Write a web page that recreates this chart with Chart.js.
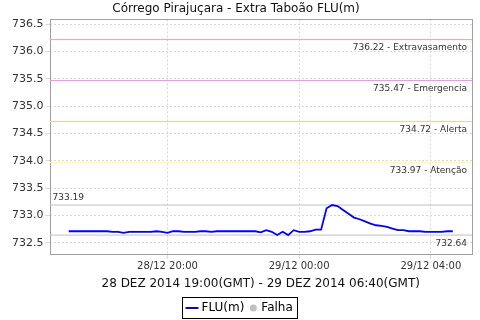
<!DOCTYPE html>
<html><head><meta charset="utf-8">
<script src="https://cdn.jsdelivr.net/npm/chart.js@4/dist/chart.umd.min.js"></script>
<style>html,body{margin:0;padding:0;background:#fff}</style>
</head><body>
<canvas id="c" width="480" height="320"></canvas>
<script>
// ---- data ----
const startMinute = 1020;   // 28/12 17:00 (local axis time)
const stepMinutes = 10;
const fluValues = [
 732.71,732.71,732.71,732.71,732.71,732.71,732.71,732.71,732.70,732.70,
 732.68,732.70,732.70,732.70,732.70,732.70,732.71,732.70,732.68,732.71,
 732.71,732.70,732.70,732.70,732.71,732.71,732.70,732.71,732.71,732.71,
 732.71,732.71,732.71,732.71,732.71,732.69,732.73,732.70,732.64,732.70,
 732.64,732.73,732.70,732.70,732.71,732.74,732.74,733.13,733.19,733.17,
 733.10,733.03,732.96,732.93,732.89,732.85,732.82,732.81,732.79,732.76,
 732.73,732.73,732.71,732.71,732.71,732.70,732.70,732.70,732.70,732.71,
 732.71
];
const xTickMinutes = [1200, 1440, 1680];
const xTickLabels = ['28/12 20:00', '29/12 00:00', '29/12 04:00'];
const yTickValues = [732.5, 733.0, 733.5, 734.0, 734.5, 735.0, 735.5, 736.0, 736.5];
const thresholdValues = [736.22, 735.47, 734.72, 733.97];
const thresholdNames = ['Extravasamento', 'Emergencia', 'Alerta', 'Atenção'];
const thresholdColors = ['#f2a0a0', '#ff88ff', '#ffc89a', '#ffff88'];
const maxValue = 733.19;
const minValue = 732.64;
const xMin = 985, xMax = 1755;
const yMin = 732.275, yMax = 736.59;
const titleText = 'Córrego Pirajuçara - Extra Taboão FLU(m)';
const axisTitleText = '28 DEZ 2014 19:00(GMT) - 29 DEZ 2014 06:40(GMT)';
const legendNames = ['FLU(m)', 'Falha'];

// ---- build ----
const fluPoints = fluValues.map((v, i) => ({x: startMinute + i * stepMinutes, y: v}));
const refLines = thresholdValues.map((v, i) => ({
  data: [{x: xMin, y: v}, {x: xMax, y: v}],
  borderColor: thresholdColors[i], borderWidth: 1, pointRadius: 0, order: 5
}));
refLines.push({data: [{x: xMin, y: maxValue}, {x: xMax, y: maxValue}], borderColor: '#c0c0c0', borderWidth: 1, pointRadius: 0, order: 5});
refLines.push({data: [{x: xMin, y: minValue}, {x: xMax, y: minValue}], borderColor: '#c0c0c0', borderWidth: 1, pointRadius: 0, order: 5});

const FONT = 'DejaVu Sans';

const overlay = {
  id: 'overlay',
  beforeDatasetsDraw(chart) {
    const {ctx, chartArea: a} = chart;
    ctx.save();
    ctx.strokeStyle = '#a0a0a0';
    ctx.lineWidth = 1;
    ctx.strokeRect(Math.round(a.left) + 0.5, Math.round(a.top) + 0.5, Math.round(a.right - a.left) - 1, Math.round(a.bottom - a.top) - 1);
    ctx.restore();
  },
  afterDatasetsDraw(chart) {
    const {ctx, chartArea: a, scales: {y}} = chart;
    ctx.save();
    ctx.font = '9px ' + FONT;
    ctx.fillStyle = '#333';
    ctx.textAlign = 'right';
    ctx.textBaseline = 'top';
    thresholdValues.forEach((v, i) => {
      ctx.fillText(v.toFixed(2) + ' - ' + thresholdNames[i], a.right - 5, y.getPixelForValue(v) + 4);
    });
    ctx.fillText(minValue.toFixed(2), a.right - 5, y.getPixelForValue(minValue) + 4);
    ctx.textAlign = 'left';
    ctx.textBaseline = 'bottom';
    ctx.fillText(maxValue.toFixed(2), a.left + 3, y.getPixelForValue(maxValue) - 3);
    ctx.restore();
  },
  afterDraw(chart) {
    const {ctx} = chart;
    ctx.save();
    ctx.font = '12px ' + FONT;
    const w1 = ctx.measureText(legendNames[0]).width;
    const w2 = ctx.measureText(legendNames[1]).width;
    const boxW = 4 + 13 + 3 + w1 + 5 + 8 + 4 + w2 + 4;
    const bx = Math.round(240 - boxW / 2) + 0.5, by = 297.5, bh = 21;
    ctx.strokeStyle = '#000'; ctx.lineWidth = 1;
    ctx.strokeRect(bx, by, Math.round(boxW), bh);
    const cy = by + bh / 2;
    let x = bx + 3;
    ctx.strokeStyle = '#0000ff'; ctx.lineWidth = 2;
    ctx.beginPath(); ctx.moveTo(x, cy); ctx.lineTo(x + 13, cy); ctx.stroke();
    x += 16;
    ctx.fillStyle = '#000'; ctx.textBaseline = 'middle'; ctx.textAlign = 'left';
    ctx.fillText(legendNames[0], x, cy);
    x += w1 + 9;
    ctx.fillStyle = '#c0c0c0';
    ctx.beginPath(); ctx.arc(x, cy, 3.5, 0, Math.PI * 2); ctx.fill();
    x += 8;
    ctx.fillStyle = '#000';
    ctx.fillText(legendNames[1], x, cy);
    ctx.restore();
  }
};

new Chart(document.getElementById('c'), {
  type: 'line',
  data: {
    datasets: [
      {label: legendNames[0], data: fluPoints, borderColor: '#0000ff', borderWidth: 1.8, pointRadius: 0, tension: 0, order: 1},
      ...refLines
    ]
  },
  options: {
    responsive: false, animation: false, devicePixelRatio: 1,
    layout: {padding: {left: 0, right: 8, top: 0, bottom: 23}},
    plugins: {
      legend: {display: false},
      tooltip: {enabled: false},
      title: {display: true, text: titleText, color: '#111', font: {family: FONT, size: 12, weight: 'normal'}, padding: {top: 2, bottom: 3}}
    },
    scales: {
      x: {
        type: 'linear', min: xMin, max: xMax,
        afterBuildTicks(s) { s.ticks = xTickMinutes.map(v => ({value: v})); },
        afterFit(s) { s.height = 42; },
        ticks: {
          color: '#333', font: {family: FONT, size: 10}, padding: 1, maxRotation: 0, autoSkip: false,
          callback(v) { const i = xTickMinutes.indexOf(v); return i >= 0 ? xTickLabels[i] : ''; }
        },
        grid: {color: '#d8d8d8', tickLength: 4, drawOnChartArea: true},
        border: {display: false, dash: [2, 2]},
        title: {display: true, text: axisTitleText, color: '#111', font: {family: FONT, size: 12}, padding: {top: 0, bottom: 6}}
      },
      y: {
        type: 'linear', min: yMin, max: yMax,
        afterBuildTicks(s) { s.ticks = yTickValues.map(v => ({value: v})); },
        afterFit(s) { s.width = 49.5; },
        ticks: {color: '#333', font: {family: FONT, size: 11}, padding: 2, callback(v) { return v.toFixed(1); }},
        grid: {color: '#d8d8d8', tickLength: 4},
        border: {display: false, dash: [2, 2]}
      }
    }
  },
  plugins: [overlay]
});
</script>
</body></html>
